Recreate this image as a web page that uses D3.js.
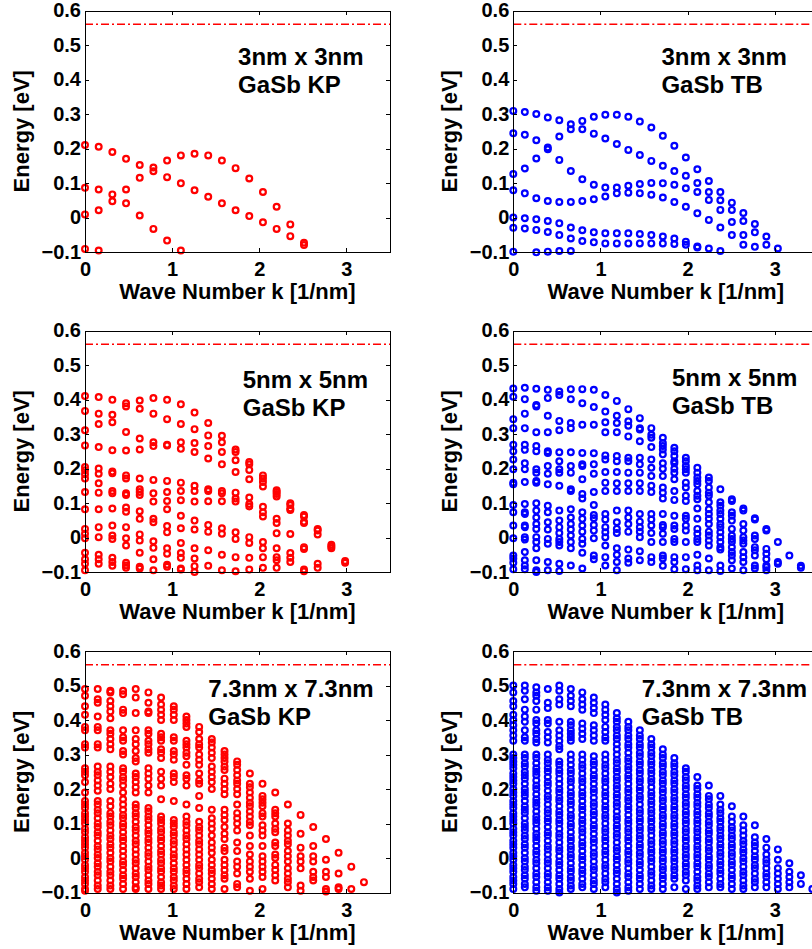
<!DOCTYPE html>
<html>
<head>
<meta charset="utf-8">
<script src="https://cdnjs.cloudflare.com/ajax/libs/d3/7.8.5/d3.min.js"></script>
<style>
  html, body { margin: 0; padding: 0; background: #fff; overflow: hidden; }
  svg { display: block; font-family: 'Liberation Sans', Arial, sans-serif; font-weight: bold; }
</style>
</head>
<body>
<div id="chart"></div>
<script>
/* global d3 */

// ---- data ----
const sizeLabels = ['3nm x 3nm', '5nm x 5nm', '7.3nm x 7.3nm'];
const methodLabels = ['GaSb KP', 'GaSb TB'];
const xTicks = [0, 1, 2, 3];
const yTicks = [-0.1, 0, 0.1, 0.2, 0.3, 0.4, 0.5, 0.6];
const yTickLabels = ['\u22120.1', '0', '0.1', '0.2', '0.3', '0.4', '0.5', '0.6'];
const bandEdge = 0.56;

// k grids (1/nm)
const kGridKP = [0, 0.157, 0.314, 0.471, 0.628, 0.785, 0.942, 1.1, 1.257, 1.414, 1.571, 1.728, 1.885, 2.042, 2.199, 2.356, 2.513, 2.67, 2.827, 2.985];
const kGridKP73 = [0, 0.146, 0.291, 0.437, 0.582, 0.728, 0.873, 1.019, 1.164, 1.31, 1.455, 1.601, 1.746, 1.892, 2.037, 2.183, 2.328, 2.474, 2.619, 2.765, 2.91, 3.056, 3.201];
const kGridTB = [0, 0.132, 0.264, 0.396, 0.528, 0.66, 0.792, 0.924, 1.056, 1.188, 1.32, 1.452, 1.584, 1.716, 1.848, 1.98, 2.112, 2.244, 2.376, 2.508, 2.64, 2.772, 2.904, 3.036, 3.168, 3.3, 3.432];

// energies (eV), one list per k point
const energy3KP = [
  [0.21, 0.086, 0.009, -0.091],
  [0.205, 0.081, 0.021, -0.096],
  [0.19, 0.067, 0.047],
  [0.17, 0.081, 0.041],
  [0.152, 0.115, 0.006],
  [0.145, 0.134, -0.033],
  [0.165, 0.117, -0.067],
  [0.18, 0.099, -0.096],
  [0.185, 0.079],
  [0.18, 0.06],
  [0.165, 0.041],
  [0.143, 0.021],
  [0.113, 0.004],
  [0.074, -0.014],
  [0.031, -0.033],
  [-0.02, -0.054],
  [-0.073, -0.08],
];

const energy3TB = [
  [0.309, 0.244, 0.126, 0.079, 0.0, -0.03, -0.099],
  [0.306, 0.24, 0.142, 0.07, -0.002, -0.032],
  [0.3, 0.224, 0.171, 0.056, -0.005, -0.036, -0.101],
  [0.29, 0.203, 0.198, 0.048, -0.01, -0.042, -0.099],
  [0.282, 0.235, 0.167, 0.045, -0.017, -0.051, -0.097],
  [0.27, 0.256, 0.135, 0.045, -0.029, -0.061, -0.097],
  [0.28, 0.256, 0.111, 0.048, -0.037, -0.068],
  [0.292, 0.243, 0.095, 0.053, -0.043, -0.072],
  [0.298, 0.229, 0.087, 0.061, -0.046, -0.075],
  [0.298, 0.213, 0.087, 0.07, -0.046, -0.075],
  [0.292, 0.196, 0.092, 0.072, -0.046, -0.075],
  [0.278, 0.181, 0.097, 0.07, -0.048, -0.075],
  [0.261, 0.164, 0.1, 0.066, -0.051, -0.075],
  [0.237, 0.15, 0.099, 0.058, -0.055, -0.075],
  [0.208, 0.135, 0.095, 0.045, -0.061, -0.077],
  [0.174, 0.121, 0.085, 0.031, -0.07, -0.079],
  [0.14, 0.1, 0.074, 0.012, -0.084, -0.087],
  [0.106, 0.074, 0.051, -0.007, -0.09],
  [0.074, 0.05, 0.022, -0.029, -0.097],
  [0.043, 0.022, -0.013, -0.051],
  [0.013, -0.01, -0.051, -0.079],
  [-0.019, -0.043, -0.085],
  [-0.055, -0.079],
  [-0.09],
];

const energy5KP = [
  [0.41, 0.367, 0.311, 0.267, 0.204, 0.195, 0.183, 0.171, 0.132, 0.082, 0.025, 0.011, -0.002, -0.044, -0.063, -0.076, -0.095],
  [0.407, 0.359, 0.329, 0.262, 0.2, 0.185, 0.157, 0.13, 0.082, 0.03, 0.001, -0.05, -0.063, -0.076],
  [0.399, 0.356, 0.334, 0.253, 0.191, 0.186, 0.135, 0.128, 0.084, 0.035, 0.006, -0.004, -0.059, -0.071, -0.082],
  [0.389, 0.38, 0.306, 0.252, 0.18, 0.171, 0.128, 0.123, 0.087, 0.075, 0.03, -0.002, -0.023, -0.073, -0.081, -0.088],
  [0.397, 0.373, 0.287, 0.255, 0.171, 0.14, 0.132, 0.123, 0.076, 0.054, 0.009, -0.009, -0.044, -0.085, -0.09],
  [0.404, 0.359, 0.276, 0.265, 0.167, 0.128, 0.104, 0.054, 0.044, -0.011, -0.03, -0.063, -0.095],
  [0.399, 0.343, 0.269, 0.267, 0.164, 0.132, 0.106, 0.082, 0.033, 0.015, -0.031, -0.047, -0.079, -0.085],
  [0.386, 0.329, 0.276, 0.257, 0.159, 0.135, 0.108, 0.063, 0.027, -0.016, -0.045, -0.059, -0.09, -0.093],
  [0.362, 0.314, 0.274, 0.248, 0.15, 0.135, 0.104, 0.049, 0.023, -0.031, -0.061, -0.083, -0.1],
  [0.332, 0.296, 0.265, 0.229, 0.14, 0.135, 0.105, 0.036, 0.017, -0.037, -0.082],
  [0.295, 0.276, 0.248, 0.212, 0.135, 0.128, 0.105, 0.027, 0.011, -0.05, -0.095],
  [0.255, 0.248, 0.224, 0.19, 0.13, 0.113, 0.104, 0.015, -0.004, -0.057, -0.098],
  [0.219, 0.212, 0.196, 0.169, 0.116, 0.097, 0.09, 0.001, -0.016, -0.059, -0.093],
  [0.18, 0.171, 0.161, 0.148, 0.089, 0.073, 0.061, -0.013, -0.031, -0.057, -0.088],
  [0.137, 0.132, 0.126, 0.119, 0.054, 0.042, 0.012, -0.031, -0.057, -0.066, -0.088],
  [0.099, 0.094, 0.084, 0.08, 0.01, -0.045, -0.059, -0.071],
  [0.065, 0.061, 0.046, 0.042, -0.028, -0.033, -0.093, -0.098],
  [0.025, 0.02, 0.009, -0.076, -0.088],
  [-0.021, -0.026, -0.031],
  [-0.068, -0.073],
];

const energy5TB = [
  [0.432, 0.408, 0.343, 0.317, 0.269, 0.25, 0.226, 0.198, 0.159, 0.154, 0.094, 0.073, 0.035, -0.002, -0.052, -0.061, -0.073, -0.092],
  [0.434, 0.401, 0.359, 0.317, 0.269, 0.254, 0.215, 0.198, 0.161, 0.097, 0.073, 0.068, 0.035, 0.03, 0.001, -0.006, -0.042, -0.066, -0.081, -0.092],
  [0.431, 0.384, 0.38, 0.305, 0.265, 0.25, 0.198, 0.188, 0.164, 0.159, 0.099, 0.078, 0.058, 0.039, 0.025, 0.001, -0.013, -0.031, -0.066, -0.095, -0.1],
  [0.428, 0.404, 0.353, 0.305, 0.25, 0.245, 0.207, 0.185, 0.154, 0.092, 0.073, 0.044, 0.023, -0.004, -0.018, -0.071, -0.095],
  [0.423, 0.413, 0.338, 0.311, 0.247, 0.221, 0.198, 0.188, 0.15, 0.078, 0.049, 0.03, 0.013, -0.004, -0.013, -0.023, -0.076, -0.097],
  [0.43, 0.401, 0.332, 0.317, 0.247, 0.207, 0.188, 0.14, 0.135, 0.082, 0.058, 0.039, 0.023, 0.006, -0.013, -0.031, -0.081],
  [0.43, 0.389, 0.327, 0.245, 0.212, 0.207, 0.169, 0.126, 0.113, 0.073, 0.054, 0.035, 0.017, -0.004, -0.018, -0.044, -0.09],
  [0.428, 0.378, 0.327, 0.244, 0.212, 0.185, 0.132, 0.094, 0.065, 0.056, 0.036, 0.02, -0.002, -0.052, -0.063],
  [0.413, 0.365, 0.334, 0.305, 0.238, 0.226, 0.19, 0.159, 0.135, 0.068, 0.052, 0.03, 0.015, 0.001, -0.023, -0.057, -0.081],
  [0.396, 0.353, 0.332, 0.305, 0.236, 0.221, 0.19, 0.157, 0.135, 0.078, 0.044, 0.025, 0.013, -0.031, -0.05, -0.071, -0.095],
  [0.372, 0.337, 0.324, 0.293, 0.231, 0.221, 0.188, 0.157, 0.135, 0.078, 0.058, 0.039, 0.017, -0.035, -0.061, -0.073],
  [0.346, 0.317, 0.313, 0.279, 0.231, 0.212, 0.188, 0.157, 0.135, 0.068, 0.046, 0.03, 0.017, 0.001, -0.04, -0.066],
  [0.317, 0.298, 0.289, 0.262, 0.226, 0.202, 0.178, 0.15, 0.132, 0.068, 0.052, 0.035, 0.013, -0.013, -0.057, -0.071],
  [0.289, 0.274, 0.265, 0.255, 0.241, 0.215, 0.199, 0.178, 0.145, 0.13, 0.113, 0.068, 0.036, 0.03, 0.011, -0.013, -0.052, -0.061, -0.082],
  [0.26, 0.25, 0.236, 0.221, 0.215, 0.199, 0.188, 0.169, 0.135, 0.109, 0.063, 0.035, 0.025, -0.004, -0.013, -0.057, -0.071, -0.092],
  [0.231, 0.221, 0.207, 0.198, 0.188, 0.159, 0.145, 0.121, 0.106, 0.063, 0.054, 0.035, 0.02, -0.013, -0.057, -0.092],
  [0.202, 0.188, 0.174, 0.164, 0.154, 0.135, 0.121, 0.111, 0.084, 0.054, 0.025, 0.011, -0.004, -0.013, -0.05, -0.081, -0.095],
  [0.174, 0.164, 0.145, 0.13, 0.121, 0.102, 0.082, 0.068, 0.054, 0.039, 0.017, 0.006, -0.009, -0.023, -0.061, -0.095],
  [0.14, 0.102, 0.092, 0.078, 0.068, 0.054, 0.039, 0.03, 0.015, 0.001, -0.013, -0.028, -0.035, -0.081, -0.097],
  [0.111, 0.106, 0.073, 0.063, 0.049, 0.025, 0.006, -0.004, -0.013, -0.028, -0.042, -0.052, -0.066, -0.09],
  [0.084, 0.078, 0.039, 0.02, 0.001, -0.009, -0.018, -0.042, -0.057, -0.071, -0.095],
  [0.056, 0.052, 0.006, -0.004, -0.028, -0.037, -0.052, -0.081, -0.09],
  [0.025, 0.02, -0.033, -0.047, -0.063, -0.081, -0.086, -0.095],
  [-0.013, -0.071, -0.076],
  [-0.052],
  [-0.082, -0.088],
];

const energy73KP = [
  [0.49, 0.47, 0.44, 0.415, 0.38, 0.37, 0.33, 0.32, 0.26, 0.25, 0.24, 0.22, 0.19, 0.165, 0.155, 0.145, 0.13, 0.12, 0.11, 0.1, 0.085, 0.075, 0.06, 0.05, 0.04, 0.03, 0.015, 0.005, -0.005, -0.02, -0.03, -0.04, -0.055, -0.065, -0.075, -0.09, -0.095],
  [0.49, 0.46, 0.45, 0.41, 0.38, 0.37, 0.33, 0.32, 0.265, 0.25, 0.24, 0.225, 0.21, 0.195, 0.165, 0.155, 0.14, 0.13, 0.115, 0.1, 0.09, 0.075, 0.065, 0.05, 0.035, 0.025, 0.01, 0, -0.015, -0.025, -0.04, -0.05, -0.065, -0.08, -0.09],
  [0.485, 0.48, 0.455, 0.44, 0.425, 0.405, 0.37, 0.36, 0.345, 0.33, 0.315, 0.265, 0.25, 0.235, 0.215, 0.2, 0.165, 0.15, 0.13, 0.12, 0.105, 0.095, 0.08, 0.065, 0.055, 0.04, 0.03, 0.015, 0, -0.01, -0.025, -0.04, -0.05, -0.065, -0.08, -0.09],
  [0.485, 0.475, 0.43, 0.42, 0.37, 0.35, 0.34, 0.31, 0.3, 0.26, 0.25, 0.235, 0.225, 0.21, 0.19, 0.17, 0.155, 0.14, 0.125, 0.115, 0.1, 0.09, 0.075, 0.06, 0.05, 0.035, 0.02, 0.005, -0.01, -0.02, -0.035, -0.05, -0.06, -0.075, -0.09],
  [0.49, 0.465, 0.42, 0.37, 0.345, 0.33, 0.31, 0.29, 0.28, 0.245, 0.235, 0.22, 0.205, 0.19, 0.155, 0.145, 0.13, 0.12, 0.105, 0.09, 0.08, 0.065, 0.05, 0.04, 0.025, 0.01, -0.005, -0.015, -0.03, -0.045, -0.055, -0.07, -0.085, -0.09],
  [0.48, 0.45, 0.425, 0.42, 0.37, 0.36, 0.34, 0.33, 0.315, 0.305, 0.26, 0.245, 0.23, 0.21, 0.19, 0.145, 0.135, 0.12, 0.11, 0.095, 0.08, 0.07, 0.055, 0.045, 0.03, 0.015, 0.005, -0.01, -0.025, -0.035, -0.05, -0.065, -0.075, -0.09],
  [0.465, 0.445, 0.43, 0.415, 0.4, 0.36, 0.35, 0.34, 0.315, 0.305, 0.29, 0.25, 0.23, 0.21, 0.17, 0.12, 0.11, 0.1, 0.085, 0.075, 0.06, 0.05, 0.035, 0.02, 0.01, -0.005, -0.015, -0.03, -0.04, -0.055, -0.07, -0.08, -0.09],
  [0.44, 0.43, 0.415, 0.4, 0.35, 0.34, 0.31, 0.3, 0.285, 0.245, 0.235, 0.22, 0.165, 0.11, 0.1, 0.09, 0.075, 0.065, 0.05, 0.04, 0.025, 0.01, 0, -0.015, -0.03, -0.04, -0.055, -0.065, -0.08, -0.09],
  [0.41, 0.4, 0.39, 0.38, 0.34, 0.33, 0.32, 0.305, 0.295, 0.27, 0.24, 0.23, 0.21, 0.155, 0.12, 0.105, 0.095, 0.08, 0.065, 0.055, 0.04, 0.025, 0.01, -0.005, -0.02, -0.035, -0.045, -0.06, -0.075, -0.09],
  [0.38, 0.365, 0.345, 0.33, 0.32, 0.3, 0.285, 0.27, 0.245, 0.225, 0.215, 0.18, 0.145, 0.105, 0.09, 0.08, 0.065, 0.05, 0.04, 0.025, 0.01, -0.005, -0.02, -0.03, -0.045, -0.06, -0.07, -0.085],
  [0.345, 0.335, 0.32, 0.305, 0.29, 0.265, 0.25, 0.235, 0.22, 0.2, 0.14, 0.115, 0.1, 0.085, 0.065, 0.045, 0.03, 0.015, -0.005, -0.02, -0.035, -0.045, -0.06, -0.075, -0.09],
  [0.31, 0.3, 0.29, 0.28, 0.265, 0.255, 0.23, 0.215, 0.2, 0.185, 0.14, 0.125, 0.11, 0.09, 0.07, 0.055, 0.03, 0.02, -0.005, -0.02, -0.035, -0.05, -0.06, -0.09],
  [0.28, 0.27, 0.255, 0.24, 0.225, 0.215, 0.2, 0.185, 0.155, 0.13, 0.115, 0.1, 0.08, 0.045, 0.02, -0.01, -0.025, -0.045, -0.075, -0.085],
  [0.245, 0.215, 0.205, 0.19, 0.175, 0.16, 0.15, 0.135, 0.12, 0.105, 0.095, 0.065, 0.035, 0.01, -0.01, -0.025, -0.04, -0.06, -0.095],
  [0.215, 0.18, 0.17, 0.16, 0.15, 0.13, 0.12, 0.095, 0.08, 0.065, 0.035, 0.005, -0.01, -0.025, -0.04, -0.055, -0.09],
  [0.19, 0.14, 0.13, 0.12, 0.1, 0.085, 0.075, 0.045, 0.035, 0.01, 0, -0.02, -0.035, -0.05, -0.065],
  [0.155, 0.1, 0.08, 0.065, 0.05, 0.04, 0.02, 0.005, -0.01, -0.03, -0.045, -0.06, -0.07, -0.085],
  [0.125, 0.07, 0.03, 0.005, -0.01, -0.03, -0.08, -0.095],
  [0.09, 0.035, 0.005, -0.01, -0.04, -0.055, -0.065],
  [0.055, -0.005, -0.04, -0.055, -0.09, -0.097],
  [0.015, -0.045, -0.085, -0.09],
  [-0.025, -0.09],
  [-0.07],
];

const energy73TB = [
  [0.5, 0.48, 0.455, 0.44, 0.415, 0.4, 0.385, 0.37, 0.355, 0.34, 0.3, 0.29, 0.28, 0.27, 0.26, 0.245, 0.235, 0.225, 0.215, 0.2, 0.19, 0.18, 0.165, 0.155, 0.145, 0.13, 0.12, 0.11, 0.1, 0.085, 0.075, 0.065, 0.05, 0.04, 0.03, 0.015, 0.005, -0.005, -0.02, -0.03, -0.04, -0.055, -0.065, -0.075, -0.09],
  [0.5, 0.485, 0.46, 0.43, 0.41, 0.395, 0.37, 0.35, 0.34, 0.3, 0.29, 0.275, 0.265, 0.25, 0.24, 0.23, 0.215, 0.2, 0.19, 0.18, 0.165, 0.15, 0.14, 0.13, 0.115, 0.1, 0.09, 0.08, 0.065, 0.055, 0.04, 0.03, 0.015, 0, -0.01, -0.025, -0.035, -0.05, -0.06, -0.075, -0.085],
  [0.495, 0.48, 0.47, 0.455, 0.43, 0.4, 0.39, 0.37, 0.36, 0.345, 0.335, 0.3, 0.29, 0.275, 0.26, 0.25, 0.24, 0.225, 0.21, 0.2, 0.185, 0.17, 0.16, 0.15, 0.135, 0.12, 0.11, 0.1, 0.085, 0.07, 0.06, 0.05, 0.035, 0.02, 0.01, -0.005, -0.015, -0.03, -0.045, -0.055, -0.07, -0.085, -0.095],
  [0.49, 0.45, 0.435, 0.4, 0.39, 0.365, 0.35, 0.335, 0.3, 0.285, 0.275, 0.26, 0.25, 0.235, 0.22, 0.21, 0.195, 0.18, 0.17, 0.155, 0.14, 0.13, 0.115, 0.105, 0.09, 0.075, 0.065, 0.05, 0.035, 0.025, 0.01, -0.005, -0.015, -0.03, -0.045, -0.055, -0.07, -0.085, -0.095],
  [0.5, 0.485, 0.46, 0.445, 0.395, 0.37, 0.355, 0.34, 0.325, 0.315, 0.28, 0.27, 0.255, 0.245, 0.23, 0.215, 0.2, 0.19, 0.175, 0.165, 0.15, 0.135, 0.125, 0.11, 0.1, 0.085, 0.07, 0.06, 0.045, 0.03, 0.02, 0.005, -0.01, -0.02, -0.035, -0.05, -0.06, -0.075, -0.09, -0.1],
  [0.49, 0.47, 0.455, 0.44, 0.395, 0.385, 0.37, 0.36, 0.35, 0.34, 0.3, 0.285, 0.27, 0.255, 0.245, 0.23, 0.22, 0.205, 0.19, 0.18, 0.165, 0.155, 0.14, 0.125, 0.115, 0.1, 0.09, 0.075, 0.06, 0.05, 0.035, 0.025, 0.01, 0, -0.015, -0.03, -0.04, -0.055, -0.065, -0.08, -0.09],
  [0.48, 0.46, 0.445, 0.43, 0.39, 0.375, 0.36, 0.345, 0.3, 0.285, 0.27, 0.26, 0.245, 0.23, 0.22, 0.205, 0.19, 0.18, 0.165, 0.15, 0.14, 0.125, 0.11, 0.1, 0.085, 0.075, 0.06, 0.045, 0.035, 0.02, 0.005, -0.005, -0.02, -0.035, -0.045, -0.06, -0.075, -0.085],
  [0.465, 0.45, 0.435, 0.42, 0.385, 0.37, 0.355, 0.34, 0.295, 0.28, 0.27, 0.255, 0.24, 0.23, 0.215, 0.2, 0.19, 0.175, 0.16, 0.15, 0.135, 0.125, 0.11, 0.095, 0.085, 0.07, 0.055, 0.045, 0.03, 0.015, 0.005, -0.01, -0.025, -0.035, -0.05, -0.065, -0.075, -0.09],
  [0.445, 0.43, 0.415, 0.4, 0.38, 0.365, 0.35, 0.34, 0.3, 0.285, 0.27, 0.26, 0.245, 0.23, 0.22, 0.205, 0.19, 0.18, 0.165, 0.15, 0.14, 0.125, 0.115, 0.1, 0.085, 0.075, 0.06, 0.05, 0.035, 0.02, 0.01, -0.005, -0.02, -0.03, -0.045, -0.06, -0.07, -0.085],
  [0.42, 0.405, 0.395, 0.38, 0.37, 0.355, 0.345, 0.33, 0.315, 0.3, 0.285, 0.275, 0.26, 0.25, 0.235, 0.225, 0.21, 0.2, 0.185, 0.175, 0.16, 0.15, 0.135, 0.12, 0.11, 0.095, 0.085, 0.07, 0.06, 0.045, 0.03, 0.02, 0.005, -0.005, -0.02, -0.035, -0.045, -0.06, -0.075, -0.09, -0.1],
  [0.395, 0.38, 0.37, 0.355, 0.345, 0.33, 0.32, 0.305, 0.29, 0.28, 0.265, 0.255, 0.24, 0.23, 0.215, 0.2, 0.19, 0.175, 0.165, 0.15, 0.14, 0.125, 0.11, 0.1, 0.085, 0.075, 0.06, 0.05, 0.035, 0.02, 0.01, -0.005, -0.015, -0.03, -0.045, -0.055, -0.07, -0.085, -0.095],
  [0.37, 0.355, 0.345, 0.33, 0.32, 0.305, 0.295, 0.28, 0.27, 0.255, 0.245, 0.23, 0.22, 0.205, 0.195, 0.18, 0.17, 0.155, 0.14, 0.13, 0.115, 0.105, 0.09, 0.08, 0.065, 0.055, 0.04, 0.03, 0.015, 0.005, -0.01, -0.02, -0.035, -0.05, -0.06, -0.075, -0.09],
  [0.345, 0.33, 0.32, 0.305, 0.295, 0.28, 0.27, 0.255, 0.245, 0.23, 0.22, 0.205, 0.19, 0.18, 0.165, 0.155, 0.14, 0.13, 0.115, 0.105, 0.09, 0.08, 0.065, 0.05, 0.04, 0.025, 0.015, 0, -0.01, -0.025, -0.04, -0.05, -0.065, -0.08, -0.09],
  [0.315, 0.3, 0.29, 0.275, 0.265, 0.25, 0.24, 0.225, 0.215, 0.2, 0.19, 0.175, 0.165, 0.15, 0.14, 0.125, 0.115, 0.1, 0.09, 0.075, 0.065, 0.05, 0.04, 0.025, 0.015, 0, -0.01, -0.025, -0.035, -0.05, -0.06, -0.075, -0.09],
  [0.29, 0.275, 0.265, 0.25, 0.24, 0.225, 0.215, 0.2, 0.19, 0.175, 0.165, 0.15, 0.14, 0.125, 0.115, 0.1, 0.09, 0.075, 0.065, 0.05, 0.04, 0.025, 0.015, 0, -0.01, -0.025, -0.035, -0.05, -0.06, -0.085],
  [0.26, 0.25, 0.235, 0.225, 0.21, 0.2, 0.185, 0.175, 0.16, 0.15, 0.135, 0.125, 0.11, 0.1, 0.085, 0.075, 0.06, 0.05, 0.035, 0.025, 0.01, 0, -0.015, -0.025, -0.04, -0.05, -0.065, -0.09],
  [0.235, 0.21, 0.2, 0.185, 0.175, 0.16, 0.15, 0.135, 0.125, 0.11, 0.1, 0.085, 0.075, 0.06, 0.05, 0.035, 0.025, 0.01, 0, -0.015, -0.025, -0.04, -0.055, -0.065, -0.08, -0.09],
  [0.21, 0.18, 0.17, 0.155, 0.145, 0.13, 0.12, 0.105, 0.095, 0.08, 0.07, 0.055, 0.045, 0.03, 0.02, 0.005, -0.005, -0.02, -0.03, -0.045, -0.055, -0.07, -0.085],
  [0.18, 0.155, 0.14, 0.13, 0.115, 0.105, 0.09, 0.08, 0.065, 0.055, 0.04, 0.03, 0.015, 0.005, -0.01, -0.02, -0.035, -0.045, -0.06, -0.075, -0.085],
  [0.15, 0.12, 0.105, 0.09, 0.08, 0.065, 0.055, 0.04, 0.03, 0.015, 0.005, -0.01, -0.02, -0.035, -0.05, -0.06, -0.075, -0.09],
  [0.12, 0.095, 0.08, 0.065, 0.05, 0.04, 0.025, 0.015, 0, -0.01, -0.025, -0.04, -0.05, -0.065, -0.08, -0.09],
  [0.095, 0.06, 0.045, 0.035, 0.02, 0.005, -0.005, -0.02, -0.03, -0.045, -0.06, -0.07, -0.085],
  [0.055, 0.03, 0.01, -0.005, -0.015, -0.03, -0.045, -0.055, -0.07, -0.085],
  [0.025, -0.005, -0.03, -0.045, -0.06, -0.075, -0.09],
  [-0.015, -0.04, -0.055, -0.07, -0.085],
  [-0.05, -0.075],
  [-0.09],
];

// ---- layout ----
const W = 812;
const H = 949;
const colX = [85, 513.3];
const rowY = [10.5, 330.5, 651];
const plotW = 305;
const plotH = 241.5;

// annotation anchor (data coords) per panel, row-major
const notePos = [
  [1.757, 0.442], [1.70, 0.442],
  [1.81, 0.432], [1.82, 0.439],
  [1.415, 0.468], [1.474, 0.468],
];

const panels = [
  { k: kGridKP, e: energy3KP, color: '#ff0000', size: sizeLabels[0], method: methodLabels[0] },
  { k: kGridTB, e: energy3TB, color: '#0000ff', size: sizeLabels[0], method: methodLabels[1] },
  { k: kGridKP, e: energy5KP, color: '#ff0000', size: sizeLabels[1], method: methodLabels[0] },
  { k: kGridTB, e: energy5TB, color: '#0000ff', size: sizeLabels[1], method: methodLabels[1] },
  { k: kGridKP73, e: energy73KP, color: '#ff0000', size: sizeLabels[2], method: methodLabels[0] },
  { k: kGridTB, e: energy73TB, color: '#0000ff', size: sizeLabels[2], method: methodLabels[1] },
];

const svg = d3.select('#chart')
  .append('svg')
  .attr('width', W)
  .attr('height', H);

const x = d3.scaleLinear().domain([0, 3.5]).range([0, plotW]);
const y = d3.scaleLinear().domain([-0.1, 0.6]).range([plotH, 0]);

function drawPanel(p, i) {
  const g = svg.append('g')
    .attr('transform', `translate(${colX[i % 2]},${rowY[Math.floor(i / 2)]})`);

  // points
  const pts = [];
  p.e.forEach((col, j) => col.forEach((v) => pts.push([p.k[j], v])));

  g.append('g')
    .selectAll('circle')
    .data(pts)
    .enter()
    .append('circle')
    .attr('cx', (d) => x(d[0]))
    .attr('cy', (d) => y(d[1]))
    .attr('r', 2.9)
    .attr('fill', 'none')
    .attr('stroke', p.color)
    .attr('stroke-width', 2.2);

  // band edge, dash-dot
  g.append('line')
    .attr('x1', x(0))
    .attr('x2', x(3.5))
    .attr('y1', y(bandEdge))
    .attr('y2', y(bandEdge))
    .attr('stroke', '#ff0000')
    .attr('stroke-width', 1.4)
    .attr('stroke-dasharray', '8,3,2,3');

  // axes, ticks inside (matlab box)
  const fmtY = (d) => yTickLabels[yTicks.indexOf(d)];

  g.append('g')
    .attr('class', 'axis')
    .attr('transform', `translate(0,${plotH})`)
    .call(d3.axisBottom(x).tickValues(xTicks).tickSizeInner(-4).tickSizeOuter(0).tickPadding(10).tickFormat(d3.format('d')));
  g.append('g')
    .attr('class', 'axis')
    .call(d3.axisTop(x).tickValues(xTicks).tickSizeInner(-4).tickSizeOuter(0).tickFormat(''));
  g.append('g')
    .attr('class', 'axis')
    .call(d3.axisLeft(y).tickValues(yTicks).tickSizeInner(-4).tickSizeOuter(0).tickPadding(4).tickFormat(fmtY));
  g.append('g')
    .attr('class', 'axis')
    .attr('transform', `translate(${plotW},0)`)
    .call(d3.axisRight(y).tickValues(yTicks).tickSizeInner(-4).tickSizeOuter(0).tickFormat(''));

  g.selectAll('.axis text')
    .attr('fill', '#000')
    .style('font-size', '20px')
    .style('font-weight', 'bold')
    .style('font-family', "'Liberation Sans', Arial, sans-serif");
  g.selectAll('.axis path, .axis line')
    .attr('stroke', '#000')
    .attr('stroke-width', 1)
    .attr('shape-rendering', 'crispEdges');

  // axis titles
  g.append('text')
    .attr('x', plotW / 2)
    .attr('y', plotH + 47)
    .attr('text-anchor', 'middle')
    .style('font-size', '22px')
    .text('Wave Number k [1/nm]');

  g.append('text')
    .attr('transform', `translate(-56,${plotH / 2}) rotate(-90)`)
    .attr('text-anchor', 'middle')
    .style('font-size', '22px')
    .text('Energy [eV]');

  // annotation
  const [nk, ne] = notePos[i];
  const note = g.append('text')
    .attr('x', x(nk))
    .attr('y', y(ne))
    .style('font-size', '24px');
  note.append('tspan').attr('x', x(nk)).text(p.size);
  note.append('tspan').attr('x', x(nk)).attr('dy', 28).text(p.method);
}

panels.forEach(drawPanel);
</script>
</body>
</html>
